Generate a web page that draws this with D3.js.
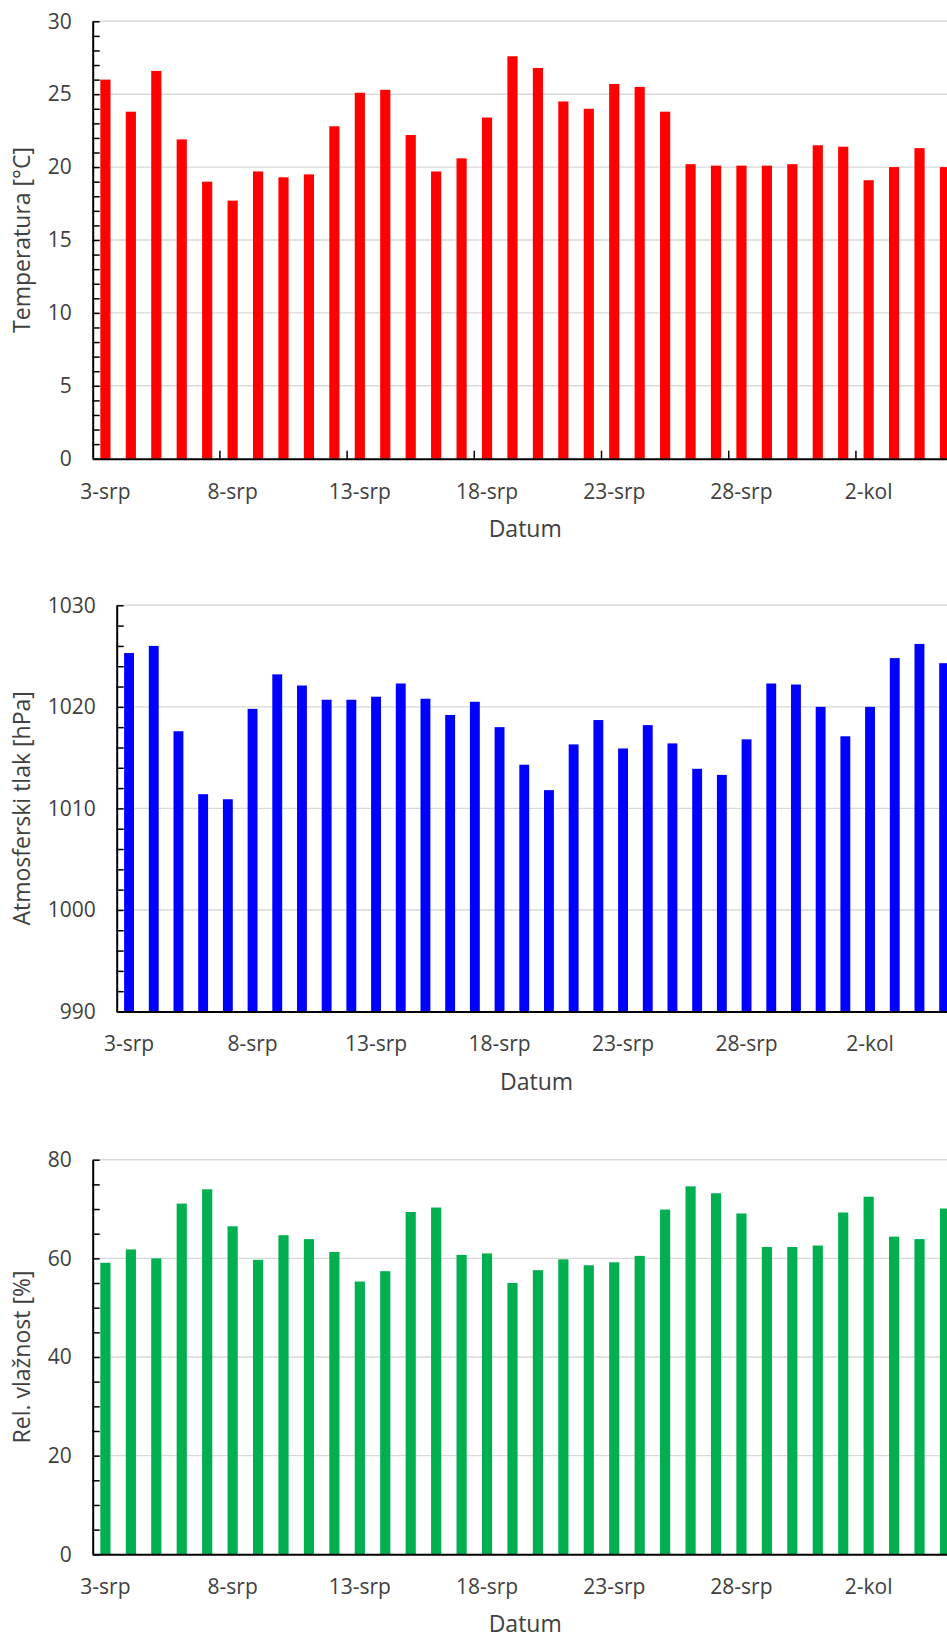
<!DOCTYPE html>
<meta charset="utf-8">
<html>
<script src="https://d3js.org/d3.v7.min.js"></script>
<style>
  body { margin: 0; background: white; }
  text { font-family: 'Open Sans', sans-serif; fill: #404040; }
</style>
<div id="charts"></div>
<script>

// categories (days, August/September)
var dates = ["3-srp","4-srp","5-srp","6-srp","7-srp","8-srp","9-srp","10-srp","11-srp","12-srp",
             "13-srp","14-srp","15-srp","16-srp","17-srp","18-srp","19-srp","20-srp","21-srp","22-srp",
             "23-srp","24-srp","25-srp","26-srp","27-srp","28-srp","29-srp","30-srp","31-srp","1-kol",
             "2-kol","3-kol","4-kol","5-kol"];

// labelled dates on the x axis
var dateLabels = ["3-srp","8-srp","13-srp","18-srp","23-srp","28-srp","2-kol"];

// series values
var temperature = [26.0, 23.8, 26.6, 21.9, 19.0, 17.7, 19.7, 19.3, 19.5, 22.8,
                   25.1, 25.3, 22.2, 19.7, 20.6, 23.4, 27.6, 26.8, 24.5, 24.0,
                   25.7, 25.5, 23.8, 20.2, 20.1, 20.1, 20.1, 20.2, 21.5, 21.4,
                   19.1, 20.0, 21.3, 20.0];

var pressure = [1025.3, 1026.0, 1017.6, 1011.4, 1010.9, 1019.8, 1023.2, 1022.1, 1020.7, 1020.7,
                1021.0, 1022.3, 1020.8, 1019.2, 1020.5, 1018.0, 1014.3, 1011.8, 1016.3, 1018.7,
                1015.9, 1018.2, 1016.4, 1013.9, 1013.3, 1016.8, 1022.3, 1022.2, 1020.0, 1017.1,
                1020.0, 1024.8, 1026.2, 1024.3];

var humidity = [59.1, 61.8, 60.0, 71.1, 74.0, 66.5, 59.7, 64.7, 63.9, 61.3,
                55.3, 57.4, 69.4, 70.3, 60.7, 61.0, 55.0, 57.6, 59.8, 58.6,
                59.2, 60.5, 69.9, 74.6, 73.2, 69.1, 62.3, 62.3, 62.6, 69.3,
                72.5, 64.4, 63.9, 70.1];

// y axis tick values
var tempTicks = [0, 5, 10, 15, 20, 25, 30];
var pressTicks = [990, 1000, 1010, 1020, 1030];
var humTicks = [0, 20, 40, 60, 80];

var width = 947,
    height = 1638;

var svg = d3.select("#charts")
  .append("svg")
    .attr("width", width)
    .attr("height", height);

function drawChart(c) {
  var g = svg.append("g");

  var x = d3.scaleBand()
    .domain(dates)
    .range([c.left, c.right])
    .paddingInner(0.6)
    .paddingOuter(0.3);

  var y = d3.scaleLinear()
    .domain([c.ticks[0], c.ticks[c.ticks.length - 1]])
    .range([c.bottom, c.top]);

  // gridlines
  g.selectAll("line.grid")
    .data(c.ticks.slice(1))
    .enter().append("line")
      .attr("class", "grid")
      .attr("x1", c.left)
      .attr("x2", c.right)
      .attr("y1", function(d) { return y(d); })
      .attr("y2", function(d) { return y(d); })
      .attr("stroke", "#d9d9d9")
      .attr("stroke-width", 1.4);

  // bars
  g.selectAll("rect.bar")
    .data(c.values)
    .enter().append("rect")
      .attr("class", "bar")
      .attr("x", function(d, i) { return x(dates[i]); })
      .attr("width", x.bandwidth())
      .attr("y", function(d) { return y(d); })
      .attr("height", function(d) { return c.bottom - y(d); })
      .attr("fill", c.color);

  // minor + major ticks pointing into the plot
  var minor = d3.range(c.ticks[0], c.ticks[c.ticks.length - 1] + 0.001, c.minor);
  g.append("g")
    .attr("transform", "translate(" + c.left + ",0)")
    .call(d3.axisLeft(y).tickValues(minor).tickSize(-7).tickFormat("").tickSizeOuter(0))
    .call(function(a) {
      a.select(".domain").attr("stroke", "black").attr("stroke-width", 2);
      a.selectAll(".tick line").attr("stroke", "black").attr("stroke-width", 1.5);
    });

  // y labels
  g.append("g")
    .attr("transform", "translate(" + c.left + ",0)")
    .call(d3.axisLeft(y).tickValues(c.ticks).tickFormat(d3.format("d")).tickSize(0).tickPadding(21))
    .call(function(a) {
      a.select(".domain").remove();
      a.selectAll("text").style("font-size", "21px").attr("fill", "#404040");
    });

  // x axis
  g.append("g")
    .attr("transform", "translate(0," + c.bottom + ")")
    .call(d3.axisBottom(x).tickValues(dateLabels).tickSize(0).tickPadding(25).tickSizeOuter(0))
    .call(function(a) {
      a.select(".domain").attr("stroke", "black").attr("stroke-width", 2);
      a.selectAll("text").style("font-size", "21px").attr("fill", "#404040");
    });

  // tick marks between categories (only some charts)
  if (c.xTicks) {
    var gap = (x.step() - x.bandwidth()) / 2;
    g.selectAll("line.xtick")
      .data([5, 10, 15, 20, 25, 30])
      .enter().append("line")
        .attr("class", "xtick")
        .attr("x1", function(d) { return x(dates[d]) - gap; })
        .attr("x2", function(d) { return x(dates[d]) - gap; })
        .attr("y1", c.bottom)
        .attr("y2", c.bottom - 8)
        .attr("stroke", "black")
        .attr("stroke-width", 1.5);
  }

  // axis titles
  g.append("text")
    .attr("transform", "translate(30," + (c.top + c.bottom) / 2 + ") rotate(-90)")
    .attr("text-anchor", "middle")
    .style("font-size", "23px")
    .text(c.title);

  g.append("text")
    .attr("x", (c.left + c.right) / 2)
    .attr("y", c.bottom + 78)
    .attr("text-anchor", "middle")
    .style("font-size", "23px")
    .text("Datum");
}

drawChart({ values: temperature, ticks: tempTicks, minor: 1, color: "#ff0000",
            title: "Temperatura [°C]", left: 92.7, right: 957.7, top: 21.3, bottom: 458.7, xTicks: true });

drawChart({ values: pressure, ticks: pressTicks, minor: 2, color: "#0000ff",
            title: "Atmosferski tlak [hPa]", left: 116.7, right: 956.5, top: 605.3, bottom: 1011.5, xTicks: false });

drawChart({ values: humidity, ticks: humTicks, minor: 5, color: "#00b050",
            title: "Rel. vlažnost [%]", left: 92.7, right: 957.7, top: 1159.7, bottom: 1554.3, xTicks: false });

</script>
</html>
